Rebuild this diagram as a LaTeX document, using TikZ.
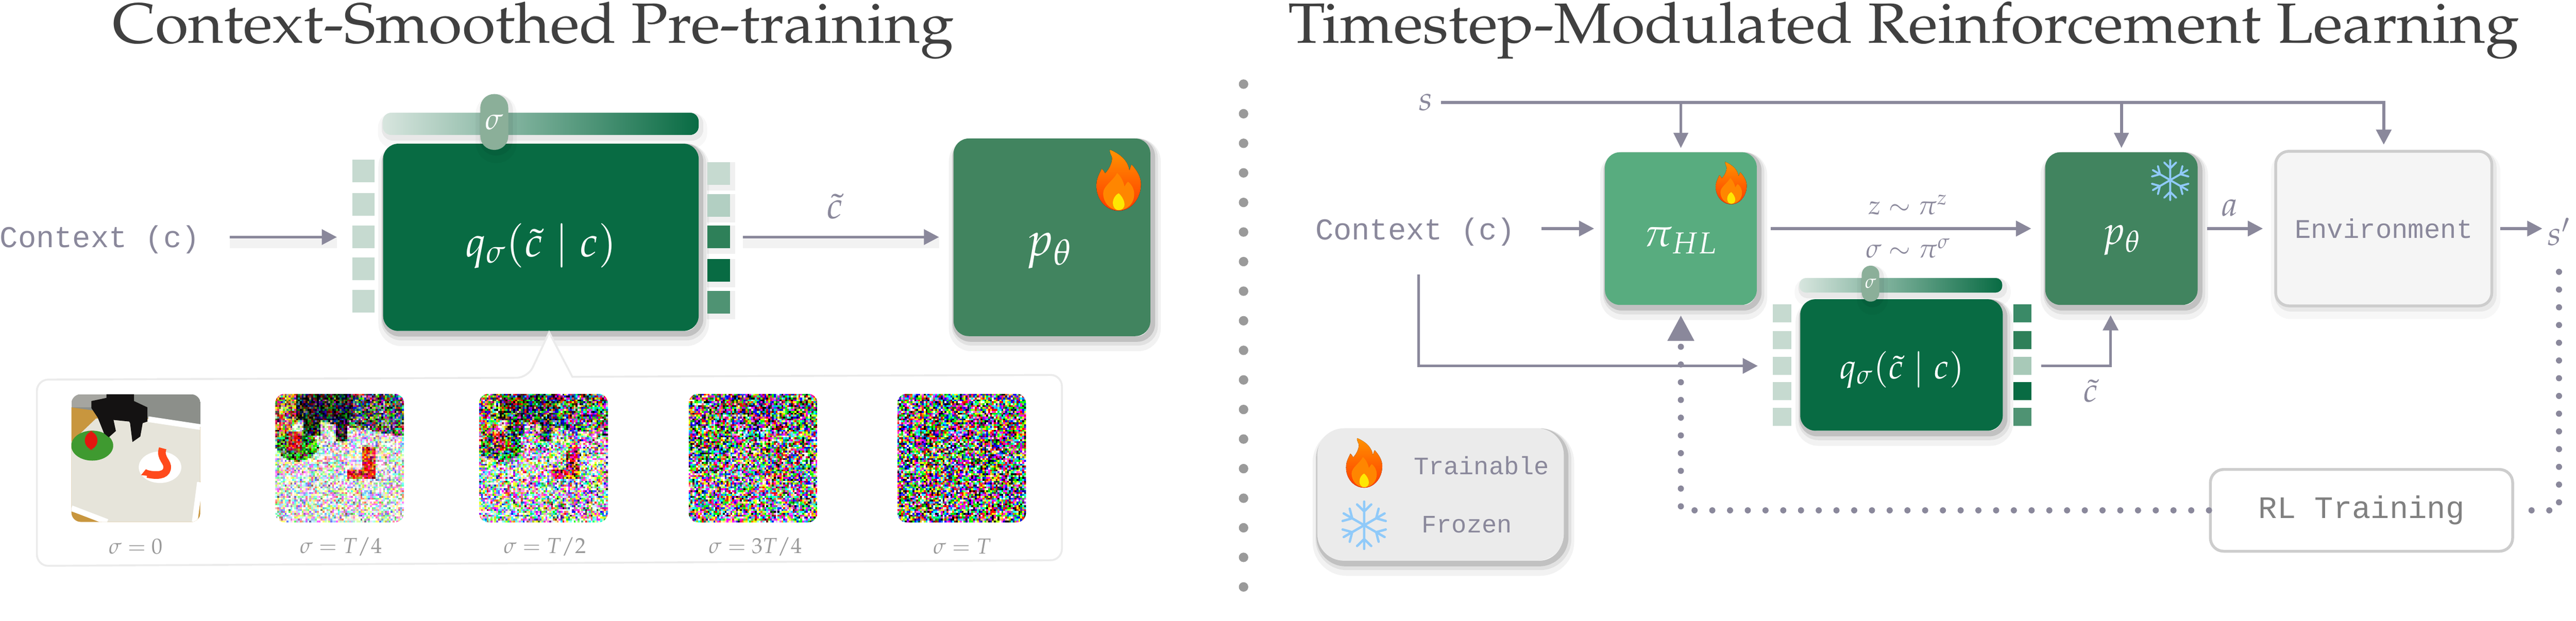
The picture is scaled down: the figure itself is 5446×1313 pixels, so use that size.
\documentclass[tikz,border=0pt]{standalone}
\usepackage[T1]{fontenc}
\usepackage{mathpazo}
\usepackage[no-math]{fontspec}
\usetikzlibrary{arrows.meta, calc}

\newfontfamily\codefont{Liberation Mono}
\newcommand{\px}{0.25pt}
\newcommand{\pala}{\fontencoding{T1}\fontfamily{ppl}\selectfont}
\newcommand{\mathsize}[1]{\fontsize{#1}{#1}\selectfont}

\definecolor{qgreen}{HTML}{086B43}
\definecolor{pgreen}{HTML}{41845F}
\definecolor{pigreen}{HTML}{58AC7F}
\definecolor{handlegreen}{HTML}{8BAF99}
\definecolor{sqpale}{HTML}{C6DAD0}
\definecolor{sqlight}{HTML}{B2CFC2}
\definecolor{sqsoft}{HTML}{A8C9B8}
\definecolor{sqmid}{HTML}{2E8059}
\definecolor{sqmix}{HTML}{3A8A67}
\definecolor{sqfade}{HTML}{4F9373}
\definecolor{flowgrey}{HTML}{8A889B}
\definecolor{sepgrey}{HTML}{9A9A9A}
\definecolor{panelgrey}{HTML}{EBEBEB}
\definecolor{edgegrey}{HTML}{CDCDCD}
\definecolor{titlegrey}{HTML}{404040}
\definecolor{flakeblue}{HTML}{90CAF9}
\definecolor{wallgrey}{HTML}{8C8F8A}
\definecolor{wallpale}{HTML}{A5A5A0}
\definecolor{tablewood}{HTML}{C8963E}
\definecolor{clothwhite}{HTML}{E6E4DA}
\definecolor{plategreen}{HTML}{3F9A30}
\definecolor{tomatored}{HTML}{E2170F}
\definecolor{shrimpred}{HTML}{FF4A1C}
\definecolor{grippernoir}{HTML}{141212}

\tikzset{
  boxsize/.style 2 args={minimum width=#1*\px, minimum height=#2*\px, inner sep=0pt},
  softshade/.style={
    preaction={draw=black, draw opacity=.05, line width=8pt, transform canvas={xshift=1.5pt, yshift=-4pt}},
    preaction={draw=black, draw opacity=.07, line width=5pt, transform canvas={xshift=1.5pt, yshift=-2.5pt}},
    preaction={draw=black, draw opacity=.14, line width=3pt, transform canvas={xshift=1pt, yshift=-1.5pt}}},
  lightshade/.style={
    preaction={draw=black, draw opacity=.03, line width=7pt, transform canvas={xshift=1pt, yshift=-3.5pt}},
    preaction={draw=black, draw opacity=.06, line width=3pt, transform canvas={xshift=1pt, yshift=-1.5pt}}},
  sqshade/.style={
    preaction={draw=black, draw opacity=.06, line width=3pt, transform canvas={xshift=1.25pt, yshift=-1.5pt}}},
  modelbox/.style={rounded corners=8pt, softshade, text=white},
  sqbox/.style={inner sep=0pt},
  slider/.style={rounded corners=4.5pt, left color=sqpale!70!white, middle color=handlegreen, right color=qgreen, draw=none, lightshade},
  handle/.style={fill=handlegreen, text=white, lightshade},
  flow/.style={draw=flowgrey, line width=1.5pt, -{Triangle[length=8pt, width=8pt]}, color=flowgrey},
  flowshade/.style={preaction={draw=black, draw opacity=.05, line width=6pt, -, transform canvas={yshift=-3pt}}},
  thinflow/.style={flow, -{Triangle[length=8pt, width=7.5pt]}},
  dotflow/.style={draw=flowgrey, line width=3.25pt, line cap=round, dash pattern=on 0pt off 9.375pt},
  code/.style={font=\codefont\fontsize{16}{16}\selectfont, text=flowgrey, inner sep=0pt},
  mathlabel/.style={font=\mathsize{18}, text=flowgrey, inner sep=0pt},
  noiselabel/.style={font=\mathsize{11.5}, text=sepgrey, inner sep=0pt},
  heading/.style={font=\pala\fontsize{30}{30}\selectfont, text=titlegrey, inner sep=0pt, anchor=base},
  flame/.pic={
    \fill[top color=orange!85!yellow, bottom color=orange!45!red]
      (-45,-157) .. controls (20,-130) and (50,-90) .. (55,-50)
      .. controls (60,-60) and (62,-75) .. (67,-80)
      .. controls (95,-50) and (115,-15) .. (115,20)
      .. controls (115,100) and (60,158) .. (0,158)
      .. controls (-65,158) and (-115,100) .. (-115,30)
      .. controls (-115,-10) and (-100,-30) .. (-88,-58)
      .. controls (-82,-55) and (-75,-45) .. (-70,-35)
      .. controls (-45,-60) and (-30,-100) .. (-35,-120)
      .. controls (-42,-135) and (-48,-148) .. (-45,-157) -- cycle;
    \fill[orange!95!yellow]
      (-8,-37) .. controls (15,-15) and (25,10) .. (30,33)
      .. controls (35,25) and (40,15) .. (48,8)
      .. controls (70,25) and (80,50) .. (80,73)
      .. controls (80,120) and (45,155) .. (0,155)
      .. controls (-45,155) and (-80,115) .. (-80,68)
      .. controls (-80,30) and (-25,0) .. (-8,-37) -- cycle;
    \fill[yellow!90!orange]
      (0,68) .. controls (15,80) and (30,105) .. (30,125)
      .. controls (30,145) and (15,155) .. (0,155)
      .. controls (-20,155) and (-30,135) .. (-30,118)
      .. controls (-30,95) and (-15,75) .. (0,68) -- cycle;
  },
  flake/.pic={
    \foreach \ang in {0,60,...,300}{
      \draw[flakeblue, line cap=round, rotate=\ang] (0,0) -- (0,-150) (-45,-132) -- (0,-88) -- (45,-132);
    }
  }
}

% tones of the scene behind the noise
\makeatletter
\newcount\cellx
\newcount\celly
\newcount\chan
\newcommand{\tone}[3]{\def\baser{#1}\def\baseg{#2}\def\baseb{#3}}
\newcommand{\inbox}[5]{\ifnum\cellx>#1 \ifnum\cellx<#2 \ifnum\celly>#3 \ifnum\celly<#4 #5\fi\fi\fi\fi}
\newcommand{\inoval}[5]{\ifnum\numexpr(\cellx-#1)*100/#3*((\cellx-#1)*100/#3)+(\celly-#2)*100/#4*((\celly-#2)*100/#4)\relax<10000 #5\fi}
\newcommand{\scenetone}{%
  \tone{950}{950}{930}%
  \inoval{595}{505}{135}{100}{\tone{999}{999}{999}}%
  \ifnum\cellx<190 \ifnum\numexpr\celly+(\cellx-33)*95/100\relax<345 \tone{700}{500}{200}\fi\fi
  \ifnum\cellx>189 \ifnum\numexpr\celly-(\cellx-190)*17/100\relax<195 \tone{350}{350}{330}\fi\fi
  \inbox{583}{667}{375}{530}{\tone{999}{200}{60}}%
  \inbox{480}{665}{515}{575}{\tone{999}{200}{60}}%
  \inoval{165}{368}{133}{95}{\tone{150}{550}{100}}%
  \inbox{116}{200}{275}{395}{\tone{900}{80}{40}}%
  \inbox{160}{515}{0}{200}{\tone{30}{30}{30}}%
  \inbox{205}{310}{0}{300}{\tone{30}{30}{30}}%
  \inbox{405}{480}{0}{340}{\tone{30}{30}{30}}%
}
\newcommand{\chanval}[4]{%
  \chan=\numexpr420+(#2-420)*#3/100+#4*(\uniformdeviate 2001-1000)/1000\relax
  \ifnum\chan<0 \chan=0 \fi
  \ifnum\chan>999 \chan=999 \fi
  \edef#1{0.\expandafter\@gobble\the\numexpr1000+\chan\relax}}
% one picture of the series: scene tones plus colour noise
\newcommand{\noisepatch}[4]{
  \begin{scope}
    \clip[rounded corners=5pt] (#1,#2) rectangle ++(272,272);
    \foreach \j in {0,...,67}{
      \foreach \i in {0,...,67}{
        \cellx=\numexpr33+12*\i\relax
        \celly=\numexpr42+12*\j\relax
        \scenetone
        \chanval\valr\baser{#3}{#4}\chanval\valg\baseg{#3}{#4}\chanval\valb\baseb{#3}{#4}%
        \pgfsys@color@rgb@fill\valr\valg\valb
        \pgfpathrectangle{\pgfqpoint{\dimexpr#1pt/4+1pt*\i\relax}{\dimexpr-#2pt/4-1pt*\j-1.12pt\relax}}{\pgfqpoint{1.12pt}{1.12pt}}
        \pgfusepath{fill}
      }
    }
  \end{scope}
}
\makeatother

\begin{document}
\begin{tikzpicture}[x=0.25pt, y=-0.25pt]
\useasboundingbox (0,0) rectangle (5446,1313);
\setrandomseed 4217

% Titles
\node[heading] (titleA) at (1127,91) {\scalebox{1.068}[1]{Context-Smoothed Pre-training}};
\node[heading] (titleB) at (4025,91) {\scalebox{1.071}[1]{Timestep-Modulated Reinforcement Learning}};

% Left panel
\node[code] (ctxA) at (211,507) {Context (c)};
\node[slider, boxsize={668}{47}] (barA) at (1143,262) {};
\node[modelbox, fill=qgreen, boxsize={667}{396}] (qA) at (1143.5,502) {};
\foreach \y/\tonecol [count=\k] in {362/sqpale,432.5/sqpale,501.5/sqpale,568.5/sqpale,637/sqpale}
  \node[sqbox, fill=\tonecol, boxsize={47}{48}] (lsqA\k) at (768.5,\y) {};
\foreach \y/\tonecol [count=\k] in {367/sqpale,434.5/sqlight,501.5/sqmid,572/qgreen,639.5/sqfade}
  \node[sqbox, fill=\tonecol, sqshade, boxsize={48}{48}] (rsqA\k) at (1519,\y) {};
\node[handle, rounded corners=7.2pt, boxsize={59}{118}, font=\mathsize{16}] (knobA) at (1045,258) {$\sigma$};
\node[text=white, inner sep=0pt, font=\mathsize{22.5}] (qtextA) at (1144,520) {$q_\sigma(\tilde{c}\mid c)$};
\node[modelbox, fill=pgreen, boxsize={416}{418}] (pA) at (2224,502) {};
\node[text=white, inner sep=0pt, font=\mathsize{25}] (ptextA) at (2218,530) {$p_\theta$};
\pic[scale=.41] at (2365,381) {flame};

\draw[flow, flowshade, shorten <=63*\px, shorten >=32*\px] (ctxA.east |- lsqA3.west) -- (lsqA3.west);
\draw[flow, flowshade, shorten <=27*\px, shorten >=30*\px] (rsqA3.east) -- (rsqA3.east -| pA.west);
\node[mathlabel, font=\mathsize{20}] (ctildeA) at (1765,437) {$\tilde{c}$};

% Noise series
\draw[panelgrey, line width=1pt, fill=white, rounded corners=6pt]
  (78,803) -- (1116,799) [sharp corners] -- (1161,703) -- (1210,797) [rounded corners=6pt]
  -- (2245,793) -- (2245,1185) -- (78,1197) -- cycle;
\begin{scope}
  \clip[rounded corners=5pt] (151,834) rectangle (424,1104);
  \begin{scope}[shift={(140,820)}, scale=.3333]
    \fill[wallgrey] (33,42) rectangle (850,260);
    \fill[wallpale] (33,42) rectangle (255,125);
    \fill[tablewood] (33,125) -- (520,195) -- (850,250) -- (850,852) -- (33,852) -- cycle;
    \fill[clothwhite] (190,195) -- (520,200) -- (850,255) -- (850,590) -- (805,852) -- (230,852) -- (33,785) -- (33,345) -- cycle;
    \draw[white, line width=3pt] (33,765) -- (260,852) (520,200) -- (850,250) (848,600) -- (815,852);
    \fill[plategreen] (165,368) ellipse [x radius=133, y radius=95];
    \fill[tomatored, rounded corners=5pt] (118,275) rectangle (198,395);
    \fill[grippernoir] (255,42) -- (430,42) -- (430,85) -- (515,125) -- (515,215) -- (485,225) -- (470,310)
      -- (420,345) -- (405,225) -- (400,215) -- (300,205) -- (315,275) -- (270,315) -- (240,290) -- (200,190)
      -- (160,130) -- (160,85) -- (255,65) -- cycle;
    \fill[white] (595,505) ellipse [x radius=135, y radius=100];
    \draw[shrimpred, line width=4pt] (612,385) .. controls (590,450) and (650,470) .. (640,515)
      .. controls (630,560) and (570,560) .. (515,548);
    \fill[shrimpred] (475,555) -- (505,518) -- (545,535) -- (540,562) -- cycle;
  \end{scope}
\end{scope}
\noisepatch{582}{833}{100}{600}
\noisepatch{1013}{833}{90}{950}
\noisepatch{1456}{833}{45}{1250}
\noisepatch{1897}{833}{0}{1500}
\foreach \cx/\lab [count=\k] in {287/0,721/{T/4},1152/{T/2},1597/{3T/4},2034/T}
  \node[noiselabel] (noise\k) at (\cx,1156) {$\sigma=\lab$};

% Separator
\draw[sepgrey, line width=5pt, line cap=round, dash pattern=on 0pt off 15.64pt] (2629,178) -- (2629,1245);

% Right panel
\node[mathlabel] (s) at (3014,217) {$s$};
\node[code] (ctxB) at (2992,490) {Context (c)};
\node[modelbox, fill=pigreen, boxsize={321}{323}] (piB) at (3553.5,483.5) {};
\node[text=white, inner sep=0pt, font=\mathsize{21}] (pitextB) at (3553,508) {$\pi_{HL}$};
\pic[scale=.285] at (3660,387) {flame};
\node[modelbox, fill=pgreen, boxsize={322}{323}] (pB) at (4485,483.5) {};
\node[text=white, inner sep=0pt, font=\mathsize{21}] (ptextB) at (4485,508) {$p_\theta$};
\pic[scale=.283, line width=1.05pt] at (4588,381) {flake};
\node[rounded corners=7pt, draw=edgegrey, line width=1.5pt, fill=black!4, lightshade, boxsize={457}{327}, code, font=\codefont\fontsize{14.25}{14.25}\selectfont] (envB) at (5039.5,483.5) {Environment};
\node[mathlabel] (sprime) at (5410,490) {$s'$};

\node[slider, rounded corners=3.5pt, boxsize={429}{31}] (barB) at (4018.5,603.5) {};
\node[modelbox, fill=qgreen, boxsize={428}{278}] (qB) at (4020,772) {};
\foreach \y/\tonecol [count=\k] in {663/sqpale,719/sqpale,774/sqpale,827/sqpale,882/sqpale}
  \node[sqbox, fill=\tonecol, boxsize={39}{38}] (lsqB\k) at (3767.5,\y) {};
\foreach \y/\tonecol [count=\k] in {663/sqmix,719/sqmid,774/sqsoft,827/qgreen,882/sqfade}
  \node[sqbox, fill=\tonecol, boxsize={39}{38}] (rsqB\k) at (4275.5,\y) {};
\node[handle, rounded corners=4.6pt, boxsize={37}{76}, font=\mathsize{10}] (knobB) at (3954.5,600) {$\sigma$};
\node[text=white, inner sep=0pt, font=\mathsize{18.5}] (qtextB) at (4021,782) {$q_\sigma(\tilde{c}\mid c)$};

\draw[flow, shorten <=17*\px, shorten >=11*\px] (s.east) -| (envB.north);
\draw[thinflow, shorten >=8*\px] (s.east -| piB.north) -- (piB.north);
\draw[thinflow, shorten >=8*\px] (s.east -| pB.north) -- (pB.north);

\draw[flow, shorten <=55*\px, shorten >=22*\px] (ctxB.east |- piB.west) -- (piB.west);
\draw[flow, shorten <=29*\px, shorten >=29*\px] (piB.east) -- (pB.west);
\draw[flow, shorten <=19*\px, shorten >=24*\px] (pB.east) -- (envB.west);
\draw[flow, shorten <=15*\px, shorten >=10*\px] (envB.east) -- (sprime.west |- envB.east);
\node[mathlabel, font=\mathsize{14}] (zlab) at (4034,433) {$z\sim\pi^{z}$};
\node[mathlabel, font=\mathsize{14}] (siglab) at (4034,525) {$\sigma\sim\pi^{\sigma}$};
\node[mathlabel] (alab) at (4714,440) {$a$};

\draw[flow, shorten <=60*\px, shorten >=31*\px] ([xshift=7*\px]ctxB.south) |- (lsqB3.west);
\draw[flow, shorten <=20*\px, shorten >=21*\px] (rsqB3.east) -| ([xshift=-23*\px]pB.south);
\node[mathlabel] (ctildeB) at (4420,827) {$\tilde{c}$};

% Legend and training loop
\node[fill=panelgrey, rounded corners=14pt, softshade, boxsize={521}{280}] (legend) at (3045.5,1046) {};
\pic[scale=.333] at (2884,979) {flame};
\pic[scale=.333, line width=1.25pt] at (2884,1111) {flake};
\node[code, font=\codefont\fontsize{13.25}{13.25}\selectfont] (trainable) at (3132,985) {Trainable};
\node[code, font=\codefont\fontsize{13.25}{13.25}\selectfont] (frozen) at (3101,1110) {Frozen};

\node[rounded corners=7pt, draw=edgegrey, line width=1.5pt, fill=white, boxsize={639}{173}, code, text=gray, font=\codefont\fontsize{16.5}{16.5}\selectfont] (rl) at (4992.5,1079.5) {RL Training};
\draw[dotflow, shorten <=55*\px] (sprime.south) |- (rl.east);
\draw[dotflow, shorten >=21*\px, -{Triangle[length=13.5pt, width=13.25pt]}] (rl.west) -| (piB.south);

\end{tikzpicture}
\end{document}
